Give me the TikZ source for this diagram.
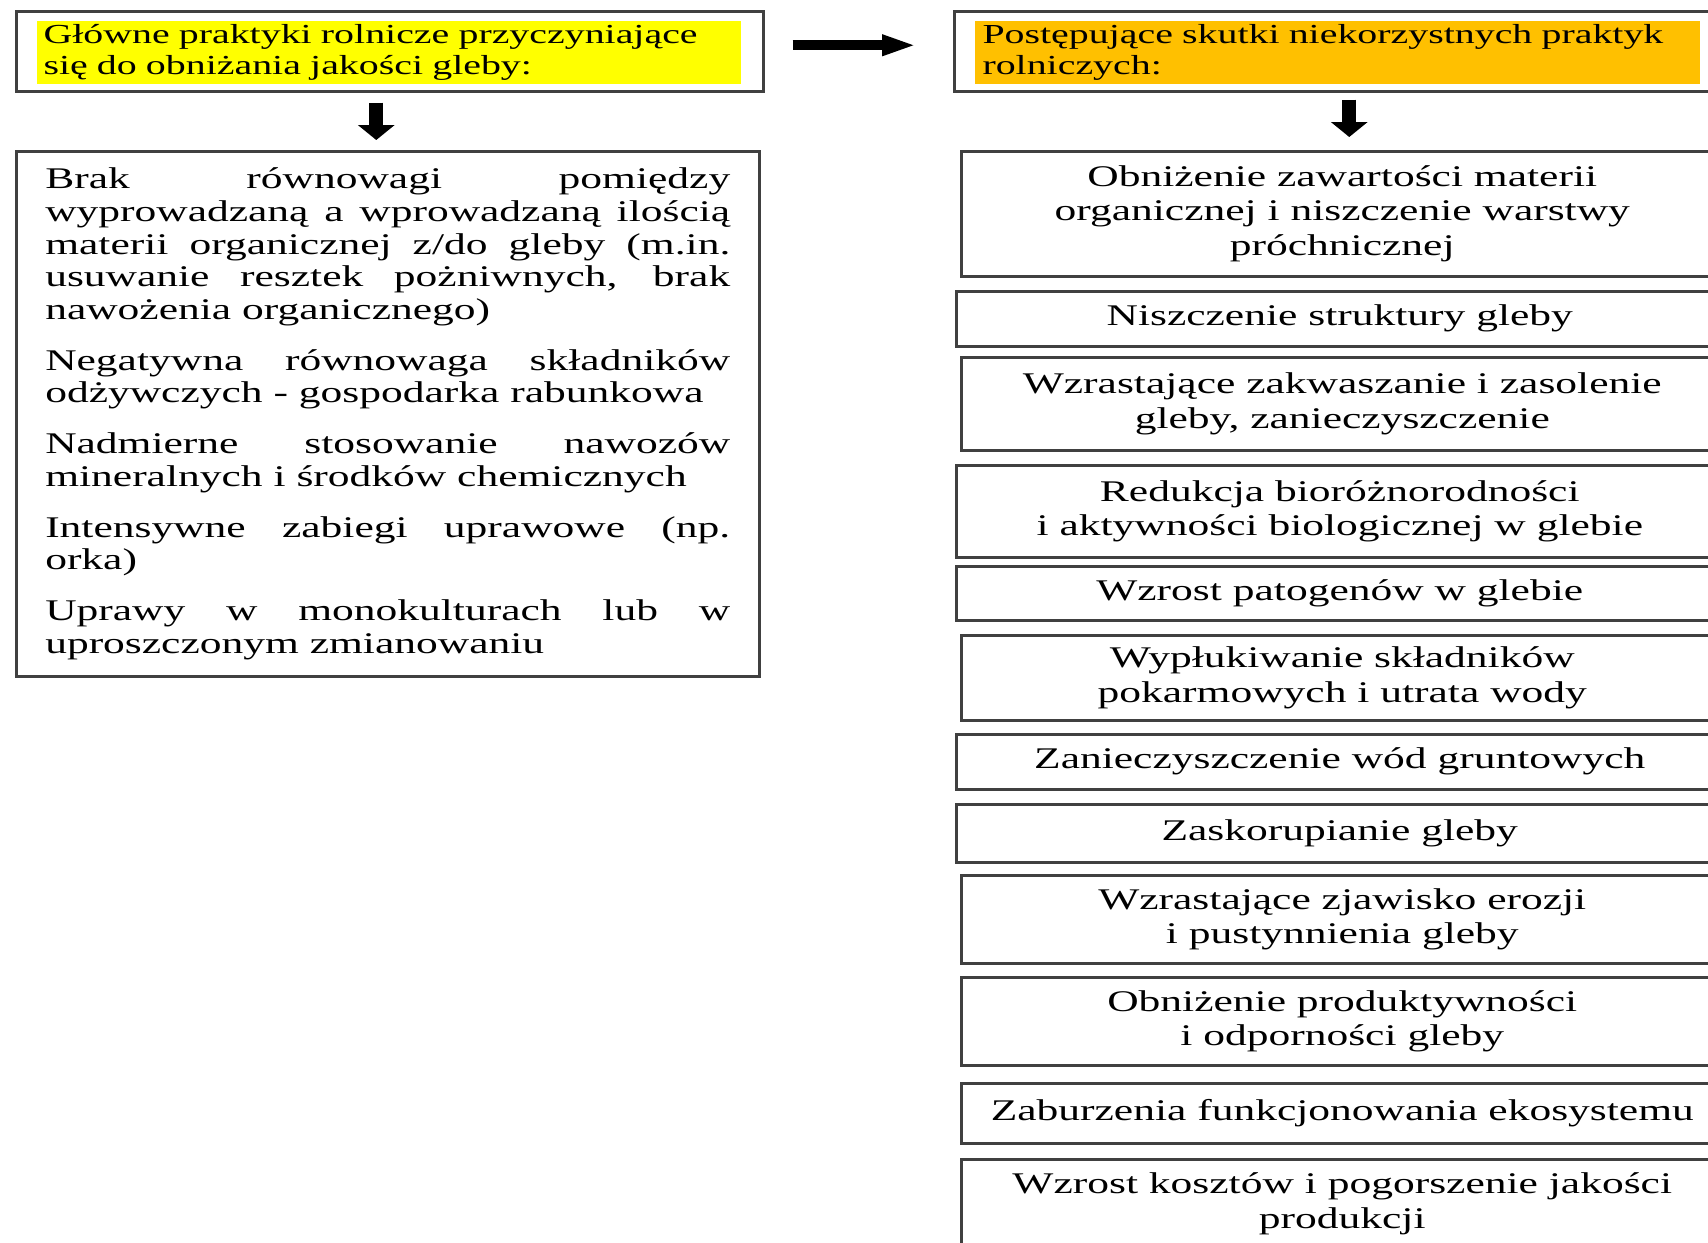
\documentclass[tikz,border=0pt]{standalone}
\usepackage{fontspec}
\setmainfont{Liberation Serif}[FakeStretch=1.45]
\usetikzlibrary{arrows.meta, positioning}
\definecolor{hlyellow}{HTML}{FFFF00}
\definecolor{hlorange}{HTML}{FFC000}

\begin{document}
\begin{tikzpicture}[
      x=0.4pt, y=-0.4pt,
      hdrbox/.style={rectangle, draw=black!75, line width=1pt, anchor=north west, inner sep=0pt},
      hilite/.style={rectangle, anchor=north west, inner xsep=2.8pt, inner ysep=0pt, minimum height=25.2pt, align=left, font=\fontsize{11pt}{12.4pt}\selectfont},
      cause/.style={hdrbox, text width=274pt, inner xsep=11.6pt, inner ysep=0pt, minimum height=210pt, align=justify, font=\fontsize{12pt}{13.08pt}\selectfont},
      effect/.style={hdrbox, align=center, minimum width=#1, font=\fontsize{12pt}{13.8pt}\selectfont},
      effect/.default=304.8pt,
      arrow/.style={-{Triangle[length=14pt, width=7.6pt]}, line width=4pt},
      darrow/.style={-{Triangle[length=6pt, width=14.4pt]}, line width=5.6pt}
    ]
    \useasboundingbox (0,0) rectangle (1708,1242);
    \clip (0,0) rectangle (1708,1242);

    \node[hdrbox, minimum width=298.8pt, minimum height=32pt] (hdrL) at (15,10) {};
    \node[hilite, fill=hlyellow, text width=276pt] (hlL) at (36,20) {Główne praktyki rolnicze przyczyniające\\się do obniżania jakości gleby:};
    \node[hdrbox, minimum width=307.6pt, minimum height=32pt] (hdrR) at (953,10) {};
    \node[hilite, fill=hlorange, inner xsep=3.2pt, text width=283.6pt] (hlR) at (974,20) {Postępujące skutki niekorzystnych praktyk\\rolniczych:};

    \node[cause] (cause) at (15,150) {\parindent=0pt\parskip=7.2pt\tolerance=10000\hyphenpenalty=10000
      Brak równowagi pomiędzy\linebreak wyprowadzaną a wprowadzaną ilością\linebreak materii organicznej z/do gleby (m.in.\linebreak usuwanie resztek pożniwnych, brak\linebreak nawożenia organicznego)\par
      Negatywna równowaga składników\linebreak odżywczych - gospodarka rabunkowa\par
      Nadmierne stosowanie nawozów\linebreak mineralnych i środków chemicznych\par
      Intensywne zabiegi uprawowe (np.\linebreak orka)\par
      Uprawy w monokulturach lub w\linebreak uproszczonym zmianowaniu\par\vspace{2.6pt}};

    \node[effect, minimum height=50pt] (eff1) at (960,150) {Obniżenie zawartości materii\\organicznej i niszczenie warstwy\\próchnicznej};
    \node[effect=306.8pt, minimum height=22pt] (eff2) at (955,290) {Niszczenie struktury gleby};
    \node[effect, minimum height=37.2pt] (eff3) at (960,356) {Wzrastające zakwaszanie i zasolenie\\gleby, zanieczyszczenie};
    \node[effect=306.8pt, minimum height=36.8pt] (eff4) at (955,464) {Redukcja bioróżnorodności\\i aktywności biologicznej w glebie};
    \node[effect=306.8pt, minimum height=21.6pt] (eff5) at (955,565) {Wzrost patogenów w glebie};
    \node[effect, minimum height=34pt] (eff6) at (960,634) {Wypłukiwanie składników\\pokarmowych i utrata wody};
    \node[effect=306.8pt, minimum height=22pt] (eff7) at (955,733) {Zanieczyszczenie wód gruntowych};
    \node[effect=306.8pt, minimum height=23.2pt] (eff8) at (955,803) {Zaskorupianie gleby};
    \node[effect, minimum height=35.2pt] (eff9) at (960,874) {Wzrastające zjawisko erozji\\i pustynnienia gleby};
    \node[effect, minimum height=35.2pt] (eff10) at (960,976) {Obniżenie produktywności\\i odporności gleby};
    \node[effect, minimum height=24pt] (eff11) at (960,1082) {Zaburzenia funkcjonowania ekosystemu};
    \node[effect, minimum height=35.6pt] (eff12) at (960,1158) {Wzrost kosztów i pogorszenie jakości\\produkcji};

    \draw[arrow, shorten <=11.2pt, shorten >=14.4pt] ([yshift=2.4pt]hdrL.east) -- ([yshift=2.4pt]hdrR.west);
    \coordinate (dl) at ([xshift=-5.4pt]hdrL.south);
    \coordinate (dr) at ([xshift=4.2pt]hdrR.south);
    \draw[darrow, shorten <=4pt, shorten >=4pt] (dl) -- (dl |- cause.north);
    \draw[darrow, shorten <=2.8pt, shorten >=5.2pt] (dr) -- (dr |- eff1.north);
  \end{tikzpicture}
\end{document}
